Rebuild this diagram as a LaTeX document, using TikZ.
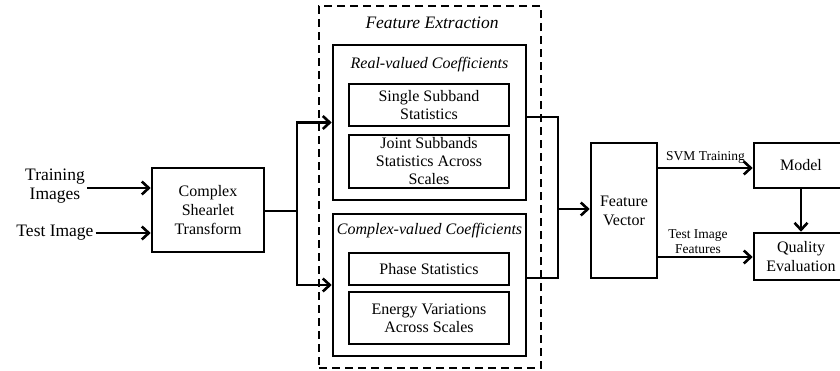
\documentclass[tikz,border=0pt]{standalone}
\usepackage{fontspec}
\setmainfont{Liberation Serif}
\usetikzlibrary{arrows.meta}

\begin{document}
\begin{tikzpicture}[x=1pt,y=-1pt,
    blk/.style={draw,line width=2.6pt,align=center,inner sep=0pt,font=\fontsize{16}{19}\selectfont},
    sub/.style={draw,line width=2.4pt,align=center,inner sep=0pt,minimum width=160pt,font=\fontsize{16}{18}\selectfont},
    grp/.style={draw,line width=2.6pt,minimum width=193pt},
    arr/.style={line width=2.6pt,-{Straight Barb[length=7pt,width=13pt,line width=2.6pt]}},
    ln/.style={line width=2.6pt},
    ttl/.style={font=\fontsize{16}{19}\selectfont\itshape},
    lbl/.style={align=center,inner sep=2pt,font=\fontsize{17.5}{19}\selectfont},
    small/.style={align=center,inner sep=1pt,font=\fontsize{13.5}{15}\selectfont}]
        \useasboundingbox (0,0) rectangle (840,370);
        \clip (0,0) rectangle (840,370);
        % inputs
        \node[lbl] (train) at (55,186) {Training\\Images};
        \node[lbl] (test) at (55,233) {Test Image};
        \node[blk,minimum width=112pt,minimum height=84pt] (cst) at (208,210) {Complex\\Shearlet\\Transform};
        % feature extraction
        \node[draw,dashed,line width=2.6pt,dash pattern=on 8pt off 5pt,minimum width=222pt,minimum height=362pt] (fe) at (430,187) {};
        \node[font=\fontsize{17.5}{19}\selectfont\itshape] (fetitle) at (432,23) {Feature Extraction};
        \node[grp,minimum height=155pt] (real) at (429.5,122.5) {};
        \node[ttl] (realtitle) at (429.5,65) {Real-valued Coefficients};
        \node[sub,minimum height=42pt] (single) at (429,105) {Single Subband\\Statistics};
        \node[sub,minimum height=53pt] (joint) at (429,161.5) {Joint Subbands\\Statistics Across\\Scales};
        \node[grp,minimum height=142pt] (cplx) at (429.5,285) {};
        \node[ttl] (cplxtitle) at (429.5,231) {Complex-valued Coefficients};
        \node[sub,minimum height=32pt] (phase) at (429,269) {Phase Statistics};
        \node[sub,minimum height=52pt] (energy) at (429,318) {Energy Variations\\Across Scales};
        % classification
        \node[blk,minimum width=66pt,minimum height=135pt] (fv) at (624,210.5) {Feature\\Vector};
        \node[blk,minimum width=94pt,minimum height=45pt] (model) at (801,165.5) {Model};
        \node[blk,minimum width=94pt,minimum height=47pt] (quality) at (801,256.5) {Quality\\Evaluation};
        \coordinate (split) at (297,211);
        \coordinate (join) at (558,209);
        % connectors
        \draw[arr] (train.east |- 0,188) -- (cst.west |- 0,188);
        \draw[arr] (test.east) -- (cst.west |- test.east);
        \draw[ln] (cst.east |- split) -- (split);
        \draw[arr] (split) |- (real.west);
        \draw[arr] (split) |- (cplx.west);
        \draw[ln] ([yshift=5.5pt]real.east) -| (join);
        \draw[ln] ([yshift=7pt]cplx.east) -| (join);
        \draw[arr] (join) -- (fv.west |- join);
        \draw[arr] (fv.east |- 0,168) -- (model.west |- 0,168)
            node[small,above,midway,yshift=2pt] (svm) {SVM Training};
        \draw[arr] (fv.east |- 0,257) -- (quality.west |- 0,257)
            node[small,above,pos=0.42,yshift=1pt] (tif) {Test Image\\Features};
        \draw[arr] (model) -- (quality);
    \end{tikzpicture}
\end{document}
